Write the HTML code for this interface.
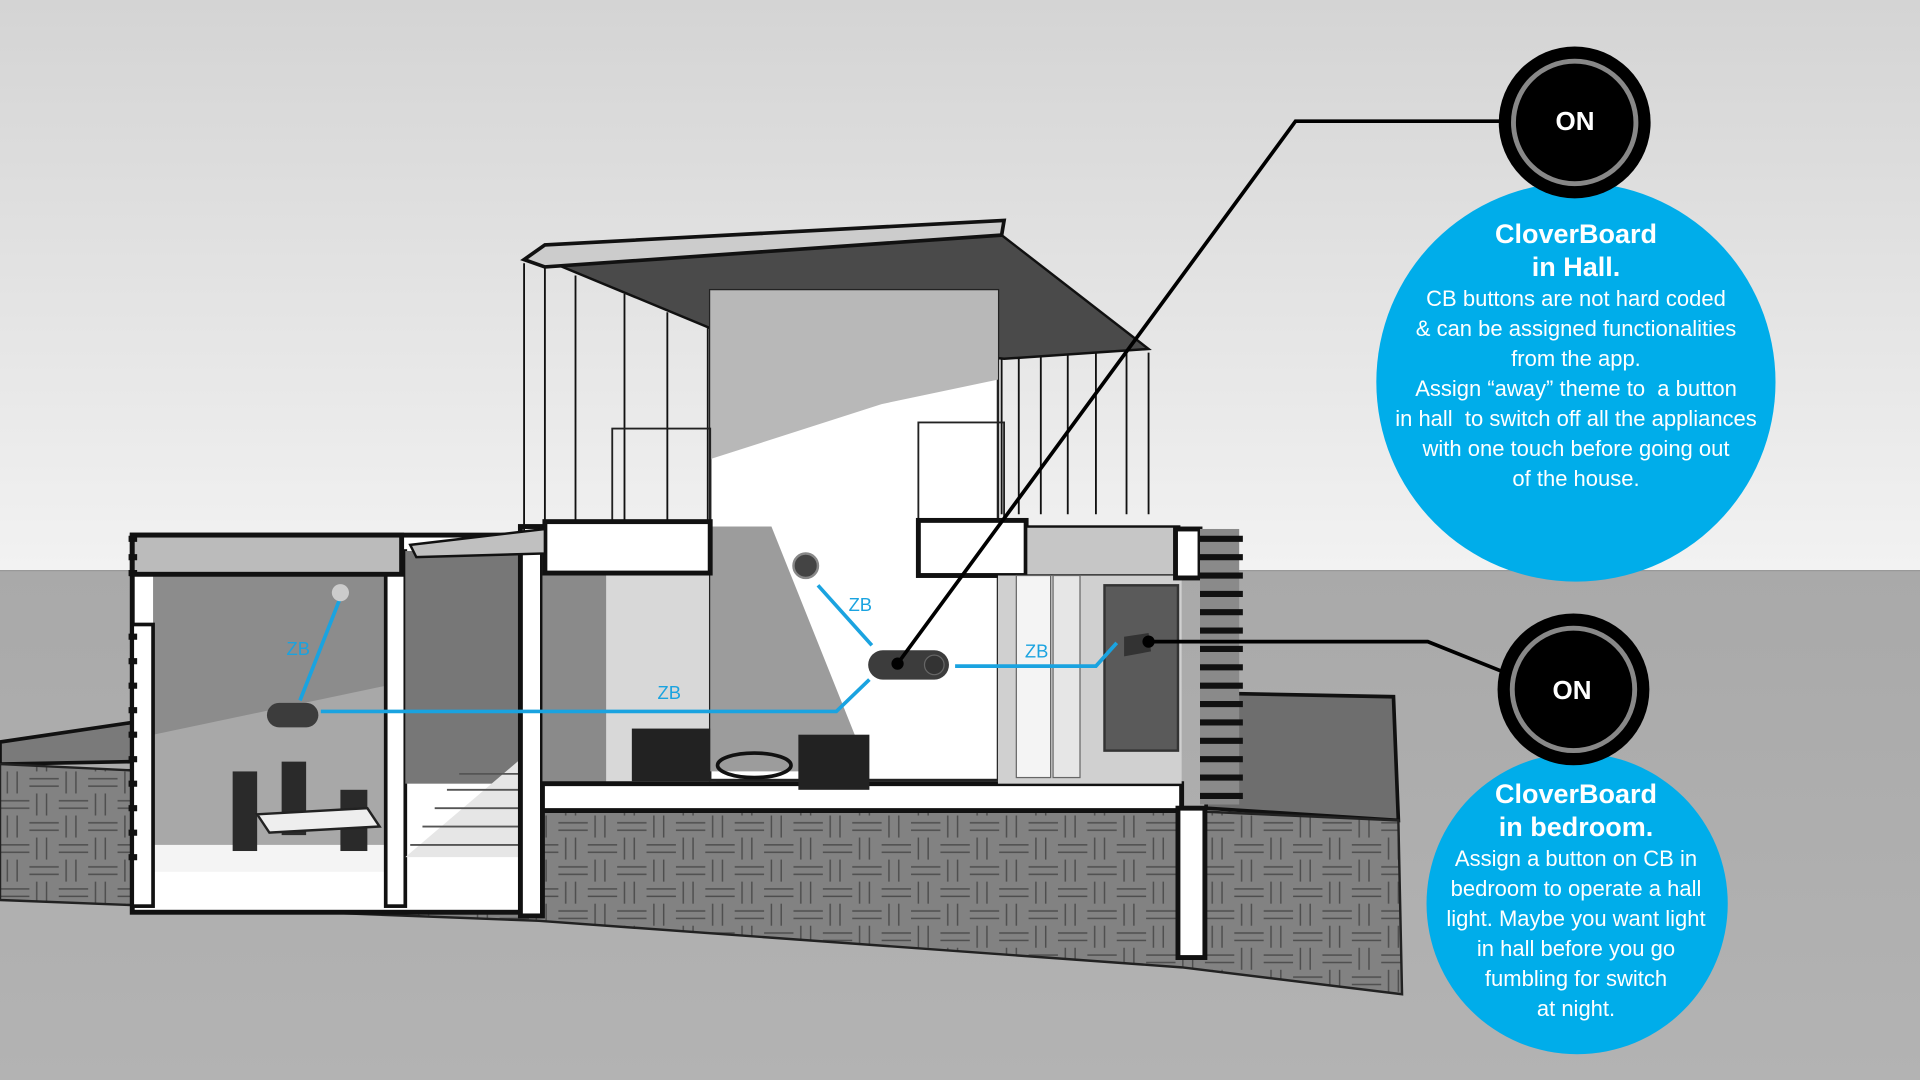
<!DOCTYPE html>
<html><head><meta charset="utf-8"><style>
html,body{margin:0;padding:0;width:1920px;height:1080px;overflow:hidden;background:#b0b0b0}
svg{position:absolute;left:0;top:0}
.t{position:absolute;color:#fff;font-family:"Liberation Sans",sans-serif;text-align:center}
</style></head><body>
<svg width="1920" height="1080" viewBox="0 0 1568 882" preserveAspectRatio="none">
<defs>
<linearGradient id="sky" x1="0" y1="0" x2="0" y2="1"><stop offset="0" stop-color="#d4d4d4"/><stop offset="1" stop-color="#f2f2f2"/></linearGradient>
<linearGradient id="gnd" x1="0" y1="0" x2="0" y2="1"><stop offset="0" stop-color="#a9a9a9"/><stop offset="1" stop-color="#b3b3b3"/></linearGradient>
<pattern id="hatch" width="48" height="36" patternUnits="userSpaceOnUse"><rect width="48" height="36" fill="#828282"/><path d="M0 6H24M0 12H24M24 24H48M24 30H48M30 0V18M38 0V18M6 18V36M14 18V36" stroke="#4e4e4e" stroke-width="1.2"/></pattern>
</defs>
<rect width="1568" height="466" fill="url(#sky)"/>
<rect y="466" width="1568" height="416" fill="url(#gnd)"/>
<line x1="0" y1="466" x2="1568" y2="466" stroke="#999" stroke-width="1"/>
<polygon points="0,606 108,590 108,622 0,624" fill="#7a7a7a" stroke="#111" stroke-width="3"/>
<polygon points="985,566 1138,569 1142,670 985,660" fill="#6e6e6e" stroke="#111" stroke-width="3"/>
<polygon points="0,624 440,645 965,662 1142,670 1145,812 965,790 440,752 0,735" fill="url(#hatch)" stroke="#222" stroke-width="2"/>
<rect x="108" y="437" width="332" height="308" fill="#fff" stroke="#111" stroke-width="4"/>
<rect x="125" y="470" width="190" height="232" fill="#8c8c8c"/>
<polygon points="125,600 315,560 315,702 125,702" fill="#a8a8a8"/>
<rect x="125" y="690" width="190" height="22" fill="#f4f4f4"/>
<rect x="315" y="450" width="16" height="290" fill="#fff" stroke="#111" stroke-width="3"/>
<rect x="331" y="450" width="94" height="190" fill="#777"/>
<polygon points="331,700 425,620 425,700" fill="#e6e6e6"/>
<g stroke="#555" stroke-width="1.5"><path d="M335 690H425M345 675H425M355 660H425M365 645H425M375 632H425"/></g>
<rect x="108" y="437" width="220" height="32" fill="#bbb" stroke="#111" stroke-width="4"/>
<rect x="108" y="510" width="17" height="230" fill="#fff" stroke="#111" stroke-width="3"/>
<rect x="425" y="430" width="18" height="318" fill="#fff" stroke="#111" stroke-width="4"/>
<g fill="#2a2a2a"><rect x="190" y="630" width="20" height="65"/><rect x="230" y="622" width="20" height="60"/><rect x="278" y="645" width="22" height="50"/></g>
<polygon points="210,665 300,660 310,675 220,680" fill="#eee" stroke="#222" stroke-width="2"/>
<rect x="443" y="450" width="140" height="195" fill="#8a8a8a"/>
<rect x="495" y="470" width="90" height="170" fill="#d8d8d8"/>
<polygon points="443,640 965,640 965,662 443,662" fill="#fff" stroke="#111" stroke-width="4"/>
<g stroke="#111" fill="none" stroke-width="1.5">
<path d="M428 215V440M445 215V440M470 225V430M510 240V430M545 255V430M578 268V430"/>
<path d="M818 190V420M832 205V420M850 225V420M872 240V420M895 262V420M920 280V420M938 288V420"/>
</g>
<polygon points="445,212 818,192 938,285 820,293 580,268" fill="#4a4a4a" stroke="#111" stroke-width="2"/>
<polygon points="428,212 445,200 820,180 818,192 445,218" fill="#ccc" stroke="#111" stroke-width="3"/>
<rect x="580" y="237" width="235" height="400" fill="#fff" stroke="#222" stroke-width="2"/>
<polygon points="580,237 815,237 815,310 720,330 580,375" fill="#b8b8b8"/>
<polygon points="580,430 630,430 710,630 580,630" fill="#9c9c9c"/>
<rect x="500" y="350" width="80" height="80" fill="none" stroke="#222" stroke-width="1.5"/>
<rect x="750" y="345" width="70" height="80" fill="none" stroke="#222" stroke-width="1.5"/>
<rect x="445" y="426" width="135" height="42" fill="#fff" stroke="#111" stroke-width="4"/>
<rect x="750" y="425" width="88" height="45" fill="#fff" stroke="#111" stroke-width="4"/>
<rect x="838" y="430" width="125" height="40" fill="#c6c6c6" stroke="#111" stroke-width="2"/>
<polygon points="335,445 445,432 445,452 340,455" fill="#c0c0c0" stroke="#111" stroke-width="2"/>
<rect x="815" y="470" width="150" height="170" fill="#d0d0d0"/>
<rect x="830" y="470" width="28" height="165" fill="#f4f4f4" stroke="#666"/>
<rect x="860" y="470" width="22" height="165" fill="#e6e6e6" stroke="#666"/>
<rect x="902" y="478" width="60" height="135" fill="#5a5a5a" stroke="#333" stroke-width="2"/>
<rect x="960" y="432" width="20" height="40" fill="#fff" stroke="#111" stroke-width="4"/>
<rect x="980" y="432" width="32" height="225" fill="#8a8a8a"/>
<g stroke="#111" stroke-width="5"><path d="M980 440H1015M980 455H1015M980 470H1015M980 485H1015M980 500H1015M980 515H1015M980 530H1015M980 545H1015M980 560H1015M980 575H1015M980 590H1015M980 605H1015M980 620H1015M980 635H1015M980 650H1015"/></g>
<rect x="962" y="660" width="22" height="122" fill="#fff" stroke="#111" stroke-width="4"/>
<g stroke="#111" stroke-width="5"><path d="M105 520H112M105 540H112M105 560H112M105 580H112M105 600H112M105 620H112M105 640H112M105 660H112M105 680H112M105 700H112M105 440H112M105 455H112M105 468H112"/></g>
<g fill="#222"><rect x="516" y="595" width="64" height="43"/><rect x="652" y="600" width="58" height="45"/></g>
<ellipse cx="616" cy="625" rx="30" ry="10" fill="none" stroke="#111" stroke-width="3"/>
<g stroke="#1aa3e0" stroke-width="3" fill="none">
<path d="M278 488L245 572"/><path d="M262 581H683L710 555"/><path d="M668 478L712 527"/><path d="M780 544H895L912 525"/>
</g>
<g fill="#1aa3e0" font-family="Liberation Sans,sans-serif" font-size="15"><text x="234" y="535">ZB</text><text x="537" y="571">ZB</text><text x="693" y="499">ZB</text><text x="837" y="537">ZB</text></g>
<rect x="709" y="531" width="66" height="24" rx="12" fill="#3c3c3c"/>
<circle cx="763" cy="543" r="8" fill="#333" stroke="#666"/>
<rect x="218" y="574" width="42" height="20" rx="10" fill="#3c3c3c"/>
<circle cx="658" cy="462" r="10" fill="#444" stroke="#888" stroke-width="2"/>
<polygon points="918,520 938,517 940,532 918,536" fill="#333"/>
<circle cx="278" cy="484" r="7" fill="#ccc"/>
<g stroke="#000" stroke-width="3" fill="none"><path d="M733 542L1058 99H1228"/><path d="M938 524H1166L1226 548"/></g>
<circle cx="733" cy="542" r="5"/><circle cx="938" cy="524" r="5"/>
<circle cx="1287" cy="312" r="163" fill="#00adea"/>
<circle cx="1286" cy="100" r="62" fill="#000"/>
<circle cx="1286" cy="100" r="50" fill="none" stroke="#888" stroke-width="4"/>
<circle cx="1288" cy="738" r="123" fill="#00adea"/>
<circle cx="1285" cy="563" r="62" fill="#000"/>
<circle cx="1285" cy="563" r="50" fill="none" stroke="#888" stroke-width="4"/>
</svg>
<div class="t" style="left:1500px;top:106px;width:150px;font-size:26px;font-weight:bold">ON</div>
<div class="t" style="left:1497px;top:675px;width:150px;font-size:26px;font-weight:bold">ON</div>
<div class="t" style="left:1376px;top:218px;width:400px;font-size:22px;line-height:30px"><b style="font-size:27px;line-height:32px">CloverBoard<br>in Hall.</b><br>CB buttons are not hard coded<br>&amp; can be assigned functionalities<br>from the app.<br>Assign “away” theme to &nbsp;a button<br>in hall &nbsp;to switch off all the appliances<br>with one touch before going out<br>of the house.</div>
<div class="t" style="left:1426px;top:778px;width:300px;font-size:22px;line-height:30px"><b style="font-size:27px;line-height:32px">CloverBoard<br>in bedroom.</b><br>Assign a button on CB in<br>bedroom to operate a hall<br>light. Maybe you want light<br>in hall before you go<br>fumbling for switch<br>at night.</div>
</body></html>
